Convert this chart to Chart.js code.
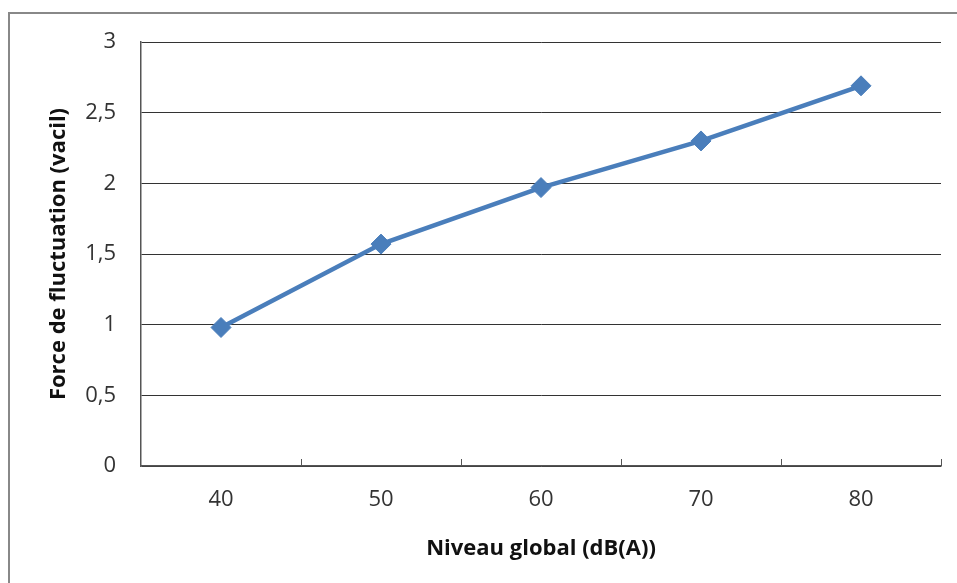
<!DOCTYPE html>
<html>
<head>
<meta charset="utf-8">
<script src="https://cdn.jsdelivr.net/npm/chart.js@4"></script>
<style>
  html, body { margin: 0; padding: 0; background: #fff; }
  #wrap { position: relative; width: 957px; height: 583px; overflow: hidden; }
  #frame { position: absolute; left: 8px; top: 12px; width: 960px; height: 590px; border: 2px solid #888; box-sizing: border-box; }
  canvas { position: absolute; left: 0; top: 0; }
</style>
</head>
<body>
<div id="wrap">
  <div id="frame"></div>
  <canvas id="c" width="957" height="583"></canvas>
</div>
<script>
const categories = ['40', '50', '60', '70', '80'];
const forceValues = [0.98, 1.57, 1.97, 2.3, 2.69];
const xTitle = 'Niveau global (dB(A))';
const yTitle = 'Force de fluctuation (vacil)';

const FONT = '"Open Sans", sans-serif';

const innerTicks = {
  id: 'innerTicks',
  afterDatasetsDraw(chart) {
    const xs = chart.scales.x;
    const ctx = chart.ctx;
    const n = categories.length;
    const w = (xs.right - xs.left) / n;
    ctx.save();
    ctx.strokeStyle = '#555';
    ctx.lineWidth = 1;
    for (let i = 1; i <= n; i++) {
      const x = Math.round(xs.left + i * w) + 0.5;
      ctx.beginPath();
      ctx.moveTo(x, xs.top);
      ctx.lineTo(x, xs.top - 7);
      ctx.stroke();
    }
    ctx.restore();
  }
};

new Chart(document.getElementById('c'), {
  type: 'line',
  data: {
    labels: categories,
    datasets: [{
      data: forceValues,
      borderColor: '#4A7EBB',
      backgroundColor: '#4A7EBB',
      borderWidth: 4.5,
      pointStyle: 'rectRot',
      pointRadius: 10,
      pointBorderWidth: 1,
      pointBackgroundColor: '#4A7EBB',
      pointBorderColor: '#4A7EBB',
      tension: 0,
      fill: false
    }]
  },
  options: {
    responsive: false,
    animation: false,
    devicePixelRatio: 1,
    layout: { padding: { top: 42, right: 16, left: 0, bottom: 0 } },
    plugins: { legend: { display: false }, tooltip: { enabled: false } },
    scales: {
      x: {
        offset: true,
        afterFit(s) { s.height = 117; },
        grid: { display: true, drawOnChartArea: false, drawTicks: false, offset: true, color: '#555' },
        border: { display: true, color: '#555', width: 1.5 },
        ticks: { padding: 21, color: '#333', font: { family: FONT, size: 22 } },
        title: { display: true, text: xTitle, color: '#111', padding: { top: 0, bottom: 21 }, font: { family: FONT, size: 22, weight: 'bold' } }
      },
      y: {
        min: 0, max: 3,
        afterFit(s) { s.width = 141; },
        ticks: {
          stepSize: 0.5, padding: 25, color: '#333',
          font: { family: FONT, size: 22 },
          callback: v => String(v).replace('.', ',')
        },
        grid: { color: '#333', lineWidth: 1, drawTicks: false },
        border: { display: true, color: '#555', width: 1.5 },
        title: { display: true, text: yTitle, color: '#111', padding: { top: 46, bottom: 0 }, font: { family: FONT, size: 22, weight: 'bold' } }
      }
    }
  },
  plugins: [innerTicks]
});
</script>
</body>
</html>
